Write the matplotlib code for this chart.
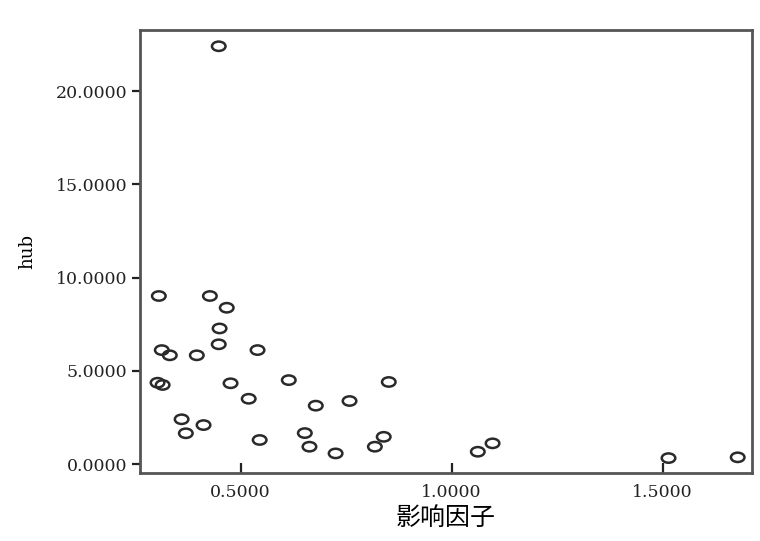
import matplotlib
matplotlib.use('Agg')
import matplotlib.pyplot as plt
from matplotlib.path import Path
from matplotlib.transforms import Affine2D
import numpy as np

# 影响因子 (x) and hub (y)
impact = [0.448, 0.306, 0.427, 0.467, 0.450, 0.448, 0.313, 0.332, 0.396, 0.540,
          0.303, 0.315, 0.476, 0.614, 0.851, 0.519, 0.678, 0.758, 0.360, 0.370,
          0.412, 0.545, 0.652, 0.663, 0.725, 0.818, 0.839, 1.062, 1.097, 1.514,
          1.678]
hub = [22.40, 9.01, 9.01, 8.38, 7.27, 6.42, 6.11, 5.83, 5.83, 6.11,
       4.36, 4.24, 4.33, 4.50, 4.40, 3.50, 3.13, 3.38, 2.40, 1.65,
       2.09, 1.29, 1.66, 0.93, 0.57, 0.93, 1.46, 0.66, 1.11, 0.32,
       0.36]

xticks = [0.5, 1.0, 1.5]
yticks = [0, 5, 10, 15, 20]

# flat ellipse marker like the original
ellipse = Path.unit_circle().transformed(Affine2D().scale(1.45, 1.0))

fig = plt.figure(figsize=(7.6, 5.41), dpi=100)
ax = fig.add_axes([0.184, 0.1257, 0.805, 0.8188])

ax.scatter(impact, hub, marker=ellipse, s=95, facecolors='none',
           edgecolors='#2a2a2a', linewidths=1.8)

ax.set_xlim(0.261, 1.711)
ax.set_ylim(-0.48, 23.27)
ax.set_xticks(xticks)
ax.set_yticks(yticks)
ax.set_xticklabels(['%.4f' % v for v in xticks], fontfamily='DejaVu Serif', fontsize=12.5)
ax.set_yticklabels(['%.4f' % v for v in yticks], fontfamily='DejaVu Serif', fontsize=12.5)
ax.tick_params(axis='x', direction='in', length=7, width=1.6, pad=8, colors='#222222')
ax.tick_params(axis='y', direction='out', length=6, width=1.6, pad=3, colors='#222222')

for sp in ax.spines.values():
    sp.set_linewidth(2)
    sp.set_color('#555555')

ax.set_xlabel('影响因子', fontfamily=['Noto Sans CJK SC', 'DejaVu Sans'], fontsize=18, labelpad=3)
ax.set_ylabel('hub', fontfamily='DejaVu Serif', fontsize=13, labelpad=14)

fig.savefig('out.png', dpi=100)
